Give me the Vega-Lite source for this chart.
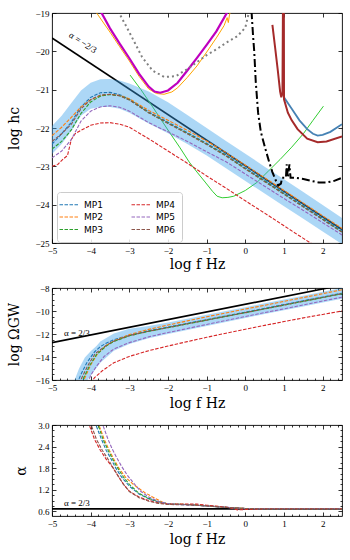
{
  "$schema": "https://vega.github.io/schema/vega-lite/v6.json",
  "padding": {"left": 7, "top": 8, "right": 6, "bottom": 5},
  "background": "white",
  "datasets": {
    "hc_mp": [
      {"mp":"MP1","x":-5,"y":-22.42},{"mp":"MP1","x":-4.75,"y":-22.15},{"mp":"MP1","x":-4.5,"y":-21.85},{"mp":"MP1","x":-4.25,"y":-21.45},{"mp":"MP1","x":-4,"y":-21.2},{"mp":"MP1","x":-3.75,"y":-21.08},{"mp":"MP1","x":-3.5,"y":-21.07},{"mp":"MP1","x":-3.25,"y":-21.13},{"mp":"MP1","x":-3,"y":-21.25},{"mp":"MP1","x":-2.5,"y":-21.58},{"mp":"MP1","x":-2,"y":-21.85},{"mp":"MP1","x":-1.5,"y":-22.12},{"mp":"MP1","x":-1,"y":-22.4},{"mp":"MP1","x":-0.5,"y":-22.7},{"mp":"MP1","x":0,"y":-23.04},{"mp":"MP1","x":0.5,"y":-23.37},{"mp":"MP1","x":1,"y":-23.7},{"mp":"MP1","x":1.5,"y":-24.03},{"mp":"MP1","x":2,"y":-24.36},{"mp":"MP1","x":2.5,"y":-24.69},
      {"mp":"MP2","x":-5,"y":-22.2},{"mp":"MP2","x":-4.75,"y":-21.98},{"mp":"MP2","x":-4.5,"y":-21.72},{"mp":"MP2","x":-4.25,"y":-21.45},{"mp":"MP2","x":-4,"y":-21.26},{"mp":"MP2","x":-3.75,"y":-21.16},{"mp":"MP2","x":-3.5,"y":-21.12},{"mp":"MP2","x":-3.25,"y":-21.15},{"mp":"MP2","x":-3,"y":-21.24},{"mp":"MP2","x":-2.5,"y":-21.54},{"mp":"MP2","x":-2,"y":-21.8},{"mp":"MP2","x":-1.5,"y":-22.06},{"mp":"MP2","x":-1,"y":-22.34},{"mp":"MP2","x":-0.5,"y":-22.64},{"mp":"MP2","x":0,"y":-22.97},{"mp":"MP2","x":0.5,"y":-23.3},{"mp":"MP2","x":1,"y":-23.63},{"mp":"MP2","x":1.5,"y":-23.96},{"mp":"MP2","x":2,"y":-24.29},{"mp":"MP2","x":2.5,"y":-24.62},
      {"mp":"MP3","x":-5,"y":-22.55},{"mp":"MP3","x":-4.75,"y":-22.35},{"mp":"MP3","x":-4.5,"y":-22.05},{"mp":"MP3","x":-4.25,"y":-21.62},{"mp":"MP3","x":-4,"y":-21.32},{"mp":"MP3","x":-3.75,"y":-21.17},{"mp":"MP3","x":-3.5,"y":-21.13},{"mp":"MP3","x":-3.25,"y":-21.16},{"mp":"MP3","x":-3,"y":-21.26},{"mp":"MP3","x":-2.5,"y":-21.6},{"mp":"MP3","x":-2,"y":-21.87},{"mp":"MP3","x":-1.5,"y":-22.14},{"mp":"MP3","x":-1,"y":-22.42},{"mp":"MP3","x":-0.5,"y":-22.72},{"mp":"MP3","x":0,"y":-23.06},{"mp":"MP3","x":0.5,"y":-23.39},{"mp":"MP3","x":1,"y":-23.72},{"mp":"MP3","x":1.5,"y":-24.05},{"mp":"MP3","x":2,"y":-24.38},{"mp":"MP3","x":2.5,"y":-24.71},
      {"mp":"MP4","x":-5,"y":-23.0},{"mp":"MP4","x":-4.85,"y":-22.95},{"mp":"MP4","x":-4.7,"y":-22.8},{"mp":"MP4","x":-4.6,"y":-22.72},{"mp":"MP4","x":-4.5,"y":-22.3},{"mp":"MP4","x":-4.4,"y":-22.15},{"mp":"MP4","x":-4.25,"y":-22.06},{"mp":"MP4","x":-4,"y":-21.93},{"mp":"MP4","x":-3.75,"y":-21.87},{"mp":"MP4","x":-3.5,"y":-21.86},{"mp":"MP4","x":-3.25,"y":-21.9},{"mp":"MP4","x":-3,"y":-21.98},{"mp":"MP4","x":-2.5,"y":-22.28},{"mp":"MP4","x":-2,"y":-22.6},{"mp":"MP4","x":-1.5,"y":-22.92},{"mp":"MP4","x":-1,"y":-23.25},{"mp":"MP4","x":-0.5,"y":-23.57},{"mp":"MP4","x":0,"y":-23.9},{"mp":"MP4","x":0.5,"y":-24.22},{"mp":"MP4","x":1,"y":-24.55},{"mp":"MP4","x":1.5,"y":-24.88},{"mp":"MP4","x":2,"y":-25.2},{"mp":"MP4","x":2.5,"y":-25.53},
      {"mp":"MP5","x":-5,"y":-22.78},{"mp":"MP5","x":-4.75,"y":-22.6},{"mp":"MP5","x":-4.5,"y":-22.3},{"mp":"MP5","x":-4.25,"y":-21.82},{"mp":"MP5","x":-4,"y":-21.56},{"mp":"MP5","x":-3.75,"y":-21.45},{"mp":"MP5","x":-3.5,"y":-21.42},{"mp":"MP5","x":-3.25,"y":-21.46},{"mp":"MP5","x":-3,"y":-21.56},{"mp":"MP5","x":-2.5,"y":-21.86},{"mp":"MP5","x":-2,"y":-22.1},{"mp":"MP5","x":-1.5,"y":-22.35},{"mp":"MP5","x":-1,"y":-22.62},{"mp":"MP5","x":-0.5,"y":-22.88},{"mp":"MP5","x":0,"y":-23.2},{"mp":"MP5","x":0.5,"y":-23.52},{"mp":"MP5","x":1,"y":-23.84},{"mp":"MP5","x":1.5,"y":-24.15},{"mp":"MP5","x":2,"y":-24.47},{"mp":"MP5","x":2.5,"y":-24.79},
      {"mp":"MP6","x":-5,"y":-22.35},{"mp":"MP6","x":-4.75,"y":-22.15},{"mp":"MP6","x":-4.5,"y":-21.9},{"mp":"MP6","x":-4.25,"y":-21.5},{"mp":"MP6","x":-4,"y":-21.26},{"mp":"MP6","x":-3.75,"y":-21.14},{"mp":"MP6","x":-3.5,"y":-21.12},{"mp":"MP6","x":-3.25,"y":-21.16},{"mp":"MP6","x":-3,"y":-21.27},{"mp":"MP6","x":-2.5,"y":-21.6},{"mp":"MP6","x":-2,"y":-21.88},{"mp":"MP6","x":-1.5,"y":-22.15},{"mp":"MP6","x":-1,"y":-22.43},{"mp":"MP6","x":-0.5,"y":-22.73},{"mp":"MP6","x":0,"y":-23.07},{"mp":"MP6","x":0.5,"y":-23.4},{"mp":"MP6","x":1,"y":-23.73},{"mp":"MP6","x":1.5,"y":-24.06},{"mp":"MP6","x":2,"y":-24.39},{"mp":"MP6","x":2.5,"y":-24.72}
    ],
    "hc_band": [
      {"x":-5,"y":-22.68,"y2":-21.95},{"x":-4.75,"y":-22.42,"y2":-21.68},{"x":-4.5,"y":-22.08,"y2":-21.35},{"x":-4.25,"y":-21.68,"y2":-21.02},{"x":-4,"y":-21.5,"y2":-20.82},{"x":-3.75,"y":-21.45,"y2":-20.73},{"x":-3.5,"y":-21.45,"y2":-20.72},{"x":-3.25,"y":-21.5,"y2":-20.76},{"x":-3,"y":-21.6,"y2":-20.84},{"x":-2.5,"y":-21.88,"y2":-21.05},{"x":-2,"y":-22.14,"y2":-21.33},{"x":-1.5,"y":-22.42,"y2":-21.66},{"x":-1,"y":-22.72,"y2":-22.0},{"x":-0.5,"y":-23.05,"y2":-22.34},{"x":0,"y":-23.38,"y2":-22.67},{"x":0.5,"y":-23.71,"y2":-23.01},{"x":1,"y":-24.04,"y2":-23.34},{"x":1.5,"y":-24.37,"y2":-23.67},{"x":2,"y":-24.7,"y2":-24.01},{"x":2.5,"y":-25.03,"y2":-24.35}
    ],
    "hc_ref": [
      {"c":"blk","x":-5,"y":-19.65},{"c":"blk","x":2.5,"y":-24.65},
      {"c":"mag","x":-3.75,"y":-18.94},{"c":"mag","x":-3.5,"y":-19.4},{"c":"mag","x":-3.25,"y":-19.8},{"c":"mag","x":-3,"y":-20.18},{"c":"mag","x":-2.75,"y":-20.58},{"c":"mag","x":-2.5,"y":-20.92},{"c":"mag","x":-2.35,"y":-21.05},{"c":"mag","x":-2.2,"y":-21.08},{"c":"mag","x":-2,"y":-21.02},{"c":"mag","x":-1.75,"y":-20.82},{"c":"mag","x":-1.5,"y":-20.5},{"c":"mag","x":-1.25,"y":-20.17},{"c":"mag","x":-1,"y":-19.83},{"c":"mag","x":-0.75,"y":-19.48},{"c":"mag","x":-0.45,"y":-18.95},
      {"c":"ora","x":-3.88,"y":-18.95},{"c":"ora","x":-3.5,"y":-19.5},{"c":"ora","x":-3.25,"y":-19.88},{"c":"ora","x":-3,"y":-20.25},{"c":"ora","x":-2.75,"y":-20.65},{"c":"ora","x":-2.5,"y":-20.98},{"c":"ora","x":-2.3,"y":-21.1},{"c":"ora","x":-2.1,"y":-21.12},{"c":"ora","x":-1.9,"y":-21.06},{"c":"ora","x":-1.75,"y":-20.95},{"c":"ora","x":-1.5,"y":-20.68},{"c":"ora","x":-1.25,"y":-20.38},{"c":"ora","x":-1,"y":-20.02},{"c":"ora","x":-0.75,"y":-19.65},{"c":"ora","x":-0.55,"y":-19.33},{"c":"ora","x":-0.47,"y":-19.12},{"c":"ora","x":-0.44,"y":-19.25},{"c":"ora","x":-0.41,"y":-19.05},{"c":"ora","x":-0.38,"y":-18.95},
      {"c":"gry","x":-3.29,"y":-18.95},{"c":"gry","x":-3,"y":-19.5},{"c":"gry","x":-2.67,"y":-20.15},{"c":"gry","x":-2.4,"y":-20.5},{"c":"gry","x":-2.1,"y":-20.67},{"c":"gry","x":-1.8,"y":-20.65},{"c":"gry","x":-1.5,"y":-20.46},{"c":"gry","x":-1.25,"y":-20.28},{"c":"gry","x":-1,"y":-20.1},{"c":"gry","x":-0.75,"y":-19.95},{"c":"gry","x":-0.5,"y":-19.78},{"c":"gry","x":-0.2,"y":-19.6},{"c":"gry","x":0,"y":-19.38},{"c":"gry","x":0.1,"y":-18.95},
      {"c":"dd","x":0.16,"y":-18.95},{"c":"dd","x":0.2,"y":-19.6},{"c":"dd","x":0.23,"y":-20.0},{"c":"dd","x":0.27,"y":-20.8},{"c":"dd","x":0.33,"y":-21.6},{"c":"dd","x":0.4,"y":-22.1},{"c":"dd","x":0.52,"y":-22.55},{"c":"dd","x":0.62,"y":-22.9},{"c":"dd","x":0.7,"y":-23.15},{"c":"dd","x":0.78,"y":-23.35},{"c":"dd","x":0.85,"y":-23.5},{"c":"dd","x":0.92,"y":-23.45},{"c":"dd","x":0.95,"y":-23.3},{"c":"dd","x":1.05,"y":-23.3},{"c":"dd","x":1.07,"y":-22.95},{"c":"dd","x":1.1,"y":-23.3},{"c":"dd","x":1.14,"y":-22.95},{"c":"dd","x":1.17,"y":-23.3},{"c":"dd","x":1.3,"y":-23.3},{"c":"dd","x":1.5,"y":-23.33},{"c":"dd","x":1.7,"y":-23.38},{"c":"dd","x":1.9,"y":-23.42},{"c":"dd","x":2.1,"y":-23.42},{"c":"dd","x":2.3,"y":-23.38},{"c":"dd","x":2.5,"y":-23.3},
      {"c":"stb","x":0.98,"y":-18.5},{"c":"stb","x":0.985,"y":-20.0},{"c":"stb","x":0.99,"y":-21.0},{"c":"stb","x":1.0,"y":-21.2},{"c":"stb","x":1.2,"y":-21.5},{"c":"stb","x":1.4,"y":-21.8},{"c":"stb","x":1.6,"y":-22.03},{"c":"stb","x":1.75,"y":-22.15},{"c":"stb","x":1.87,"y":-22.2},{"c":"stb","x":2.0,"y":-22.18},{"c":"stb","x":2.2,"y":-22.1},{"c":"stb","x":2.5,"y":-21.9},
      {"c":"brn","x":0.7,"y":-19.31},{"c":"brn","x":0.77,"y":-19.9},{"c":"brn","x":0.84,"y":-20.5},{"c":"brn","x":0.9,"y":-21.05},{"c":"brn","x":0.93,"y":-21.2},{"c":"brn","x":0.96,"y":-21.1},{"c":"brn","x":0.975,"y":-18.5},{"c":"brn","x":0.995,"y":-18.5},{"c":"brn","x":1.0,"y":-21.25},{"c":"brn","x":1.1,"y":-21.6},{"c":"brn","x":1.2,"y":-21.8},{"c":"brn","x":1.35,"y":-22.03},{"c":"brn","x":1.6,"y":-22.28},{"c":"brn","x":1.87,"y":-22.37},{"c":"brn","x":2.1,"y":-22.35},{"c":"brn","x":2.5,"y":-22.22},
      {"c":"grn","x":-2.98,"y":-20.62},{"c":"grn","x":-2.7,"y":-21.0},{"c":"grn","x":-2.41,"y":-21.43},{"c":"grn","x":-2.2,"y":-21.75},{"c":"grn","x":-1.97,"y":-22.1},{"c":"grn","x":-1.7,"y":-22.5},{"c":"grn","x":-1.45,"y":-22.89},{"c":"grn","x":-1.25,"y":-23.15},{"c":"grn","x":-1.04,"y":-23.41},{"c":"grn","x":-0.85,"y":-23.65},{"c":"grn","x":-0.73,"y":-23.78},{"c":"grn","x":-0.6,"y":-23.82},{"c":"grn","x":-0.45,"y":-23.81},{"c":"grn","x":-0.3,"y":-23.78},{"c":"grn","x":0,"y":-23.63},{"c":"grn","x":0.3,"y":-23.42},{"c":"grn","x":0.6,"y":-23.12},{"c":"grn","x":0.9,"y":-22.82},{"c":"grn","x":1.2,"y":-22.5},{"c":"grn","x":1.5,"y":-22.15},{"c":"grn","x":1.75,"y":-21.8},{"c":"grn","x":2.02,"y":-21.43}
    ],
    "om_mp": [
      {"mp":"MP1","x":-4.35,"y":-16.3},{"mp":"MP1","x":-4.25,"y":-15.5},{"mp":"MP1","x":-4.1,"y":-14.5},{"mp":"MP1","x":-3.9,"y":-13.55},{"mp":"MP1","x":-3.75,"y":-13.1},{"mp":"MP1","x":-3.6,"y":-12.8},{"mp":"MP1","x":-3.4,"y":-12.5},{"mp":"MP1","x":-3,"y":-12.1},{"mp":"MP1","x":-2.5,"y":-11.72},{"mp":"MP1","x":-2,"y":-11.4},{"mp":"MP1","x":-1.5,"y":-11.07},{"mp":"MP1","x":-1,"y":-10.75},{"mp":"MP1","x":-0.5,"y":-10.42},{"mp":"MP1","x":0,"y":-10.1},{"mp":"MP1","x":0.5,"y":-9.77},{"mp":"MP1","x":1,"y":-9.44},{"mp":"MP1","x":1.5,"y":-9.11},{"mp":"MP1","x":2,"y":-8.78},{"mp":"MP1","x":2.5,"y":-8.45},
      {"mp":"MP2","x":-4.22,"y":-16.3},{"mp":"MP2","x":-4.15,"y":-15.8},{"mp":"MP2","x":-4,"y":-14.7},{"mp":"MP2","x":-3.83,"y":-13.75},{"mp":"MP2","x":-3.6,"y":-13.0},{"mp":"MP2","x":-3.4,"y":-12.6},{"mp":"MP2","x":-3,"y":-12.05},{"mp":"MP2","x":-2.5,"y":-11.6},{"mp":"MP2","x":-2,"y":-11.22},{"mp":"MP2","x":-1.5,"y":-10.86},{"mp":"MP2","x":-1,"y":-10.5},{"mp":"MP2","x":-0.5,"y":-10.17},{"mp":"MP2","x":0,"y":-9.83},{"mp":"MP2","x":0.5,"y":-9.5},{"mp":"MP2","x":1,"y":-9.16},{"mp":"MP2","x":1.5,"y":-8.83},{"mp":"MP2","x":2,"y":-8.49},{"mp":"MP2","x":2.5,"y":-8.15},
      {"mp":"MP3","x":-4.25,"y":-16.3},{"mp":"MP3","x":-4.18,"y":-15.8},{"mp":"MP3","x":-4.02,"y":-14.7},{"mp":"MP3","x":-3.85,"y":-13.8},{"mp":"MP3","x":-3.6,"y":-13.05},{"mp":"MP3","x":-3.4,"y":-12.65},{"mp":"MP3","x":-3,"y":-12.15},{"mp":"MP3","x":-2.5,"y":-11.77},{"mp":"MP3","x":-2,"y":-11.45},{"mp":"MP3","x":-1.5,"y":-11.12},{"mp":"MP3","x":-1,"y":-10.8},{"mp":"MP3","x":-0.5,"y":-10.47},{"mp":"MP3","x":0,"y":-10.15},{"mp":"MP3","x":0.5,"y":-9.82},{"mp":"MP3","x":1,"y":-9.49},{"mp":"MP3","x":1.5,"y":-9.16},{"mp":"MP3","x":2,"y":-8.83},{"mp":"MP3","x":2.5,"y":-8.5},
      {"mp":"MP4","x":-4.0,"y":-16.3},{"mp":"MP4","x":-3.9,"y":-15.8},{"mp":"MP4","x":-3.7,"y":-15.2},{"mp":"MP4","x":-3.4,"y":-14.5},{"mp":"MP4","x":-3,"y":-13.95},{"mp":"MP4","x":-2.5,"y":-13.45},{"mp":"MP4","x":-2,"y":-13.05},{"mp":"MP4","x":-1.5,"y":-12.66},{"mp":"MP4","x":-1,"y":-12.29},{"mp":"MP4","x":-0.5,"y":-11.93},{"mp":"MP4","x":0,"y":-11.59},{"mp":"MP4","x":0.5,"y":-11.25},{"mp":"MP4","x":1,"y":-10.92},{"mp":"MP4","x":1.5,"y":-10.6},{"mp":"MP4","x":2,"y":-10.3},{"mp":"MP4","x":2.5,"y":-10.0},
      {"mp":"MP5","x":-4.08,"y":-16.3},{"mp":"MP5","x":-4.0,"y":-15.6},{"mp":"MP5","x":-3.85,"y":-14.8},{"mp":"MP5","x":-3.65,"y":-13.95},{"mp":"MP5","x":-3.4,"y":-13.3},{"mp":"MP5","x":-3,"y":-12.75},{"mp":"MP5","x":-2.5,"y":-12.25},{"mp":"MP5","x":-2,"y":-11.87},{"mp":"MP5","x":-1.5,"y":-11.52},{"mp":"MP5","x":-1,"y":-11.17},{"mp":"MP5","x":-0.5,"y":-10.82},{"mp":"MP5","x":0,"y":-10.48},{"mp":"MP5","x":0.5,"y":-10.14},{"mp":"MP5","x":1,"y":-9.81},{"mp":"MP5","x":1.5,"y":-9.47},{"mp":"MP5","x":2,"y":-9.13},{"mp":"MP5","x":2.5,"y":-8.8},
      {"mp":"MP6","x":-4.3,"y":-16.3},{"mp":"MP6","x":-4.2,"y":-15.6},{"mp":"MP6","x":-4.05,"y":-14.6},{"mp":"MP6","x":-3.88,"y":-13.7},{"mp":"MP6","x":-3.6,"y":-13.0},{"mp":"MP6","x":-3.4,"y":-12.62},{"mp":"MP6","x":-3,"y":-12.14},{"mp":"MP6","x":-2.5,"y":-11.76},{"mp":"MP6","x":-2,"y":-11.44},{"mp":"MP6","x":-1.5,"y":-11.11},{"mp":"MP6","x":-1,"y":-10.79},{"mp":"MP6","x":-0.5,"y":-10.46},{"mp":"MP6","x":0,"y":-10.14},{"mp":"MP6","x":0.5,"y":-9.81},{"mp":"MP6","x":1,"y":-9.48},{"mp":"MP6","x":1.5,"y":-9.15},{"mp":"MP6","x":2,"y":-8.82},{"mp":"MP6","x":2.5,"y":-8.49}
    ],
    "om_band": [
      {"x":-4.45,"y":-16.3,"y2":-16.3},{"x":-4.3,"y":-16.3,"y2":-15.0},{"x":-4.15,"y":-16.3,"y2":-14.05},{"x":-4.0,"y":-15.6,"y2":-13.5},{"x":-3.85,"y":-14.95,"y2":-13.05},{"x":-3.75,"y":-14.5,"y2":-12.65},{"x":-3.4,"y":-13.45,"y2":-11.95},{"x":-3,"y":-12.88,"y2":-11.55},{"x":-2.5,"y":-12.38,"y2":-11.3},{"x":-2,"y":-12.0,"y2":-11.0},{"x":-1.5,"y":-11.65,"y2":-10.67},{"x":-1,"y":-11.3,"y2":-10.33},{"x":-0.5,"y":-10.95,"y2":-10.0},{"x":0,"y":-10.6,"y2":-9.67},{"x":0.5,"y":-10.27,"y2":-9.33},{"x":1,"y":-9.93,"y2":-9.0},{"x":1.5,"y":-9.6,"y2":-8.67},{"x":2,"y":-9.26,"y2":-8.33},{"x":2.5,"y":-8.93,"y2":-8.0}
    ],
    "om_ref": [{"x":-5,"y":-12.75},{"x":2.5,"y":-7.75}],
    "al_mp": [
      {"mp":"MP1","x":-3.9,"y":3.1},{"mp":"MP1","x":-3.72,"y":2.6},{"mp":"MP1","x":-3.6,"y":2.3},{"mp":"MP1","x":-3.47,"y":2.05},{"mp":"MP1","x":-3.35,"y":1.8},{"mp":"MP1","x":-3.2,"y":1.55},{"mp":"MP1","x":-3,"y":1.3},{"mp":"MP1","x":-2.75,"y":1.08},{"mp":"MP1","x":-2.5,"y":0.95},{"mp":"MP1","x":-2.25,"y":0.86},{"mp":"MP1","x":-2,"y":0.8},{"mp":"MP1","x":-1.5,"y":0.78},{"mp":"MP1","x":-1,"y":0.75},{"mp":"MP1","x":-0.5,"y":0.71},{"mp":"MP1","x":0,"y":0.68},{"mp":"MP1","x":0.5,"y":0.67},{"mp":"MP1","x":2.5,"y":0.67},
      {"mp":"MP2","x":-3.82,"y":3.1},{"mp":"MP2","x":-3.65,"y":2.6},{"mp":"MP2","x":-3.52,"y":2.3},{"mp":"MP2","x":-3.4,"y":2.05},{"mp":"MP2","x":-3.27,"y":1.8},{"mp":"MP2","x":-3.1,"y":1.55},{"mp":"MP2","x":-2.9,"y":1.35},{"mp":"MP2","x":-2.6,"y":1.12},{"mp":"MP2","x":-2.4,"y":1.0},{"mp":"MP2","x":-2.15,"y":0.86},{"mp":"MP2","x":-2,"y":0.8},{"mp":"MP2","x":-1.5,"y":0.79},{"mp":"MP2","x":-1,"y":0.76},{"mp":"MP2","x":-0.5,"y":0.71},{"mp":"MP2","x":0,"y":0.68},{"mp":"MP2","x":0.5,"y":0.67},{"mp":"MP2","x":2.5,"y":0.67},
      {"mp":"MP3","x":-3.84,"y":3.1},{"mp":"MP3","x":-3.68,"y":2.6},{"mp":"MP3","x":-3.55,"y":2.3},{"mp":"MP3","x":-3.43,"y":2.05},{"mp":"MP3","x":-3.3,"y":1.8},{"mp":"MP3","x":-3.15,"y":1.55},{"mp":"MP3","x":-3,"y":1.35},{"mp":"MP3","x":-2.75,"y":1.1},{"mp":"MP3","x":-2.5,"y":0.96},{"mp":"MP3","x":-2.25,"y":0.87},{"mp":"MP3","x":-2,"y":0.81},{"mp":"MP3","x":-1.5,"y":0.79},{"mp":"MP3","x":-1,"y":0.75},{"mp":"MP3","x":-0.5,"y":0.71},{"mp":"MP3","x":0,"y":0.68},{"mp":"MP3","x":0.5,"y":0.67},{"mp":"MP3","x":2.5,"y":0.67},
      {"mp":"MP4","x":-4.07,"y":3.1},{"mp":"MP4","x":-3.9,"y":2.6},{"mp":"MP4","x":-3.75,"y":2.3},{"mp":"MP4","x":-3.6,"y":2.05},{"mp":"MP4","x":-3.45,"y":1.85},{"mp":"MP4","x":-3.3,"y":1.6},{"mp":"MP4","x":-3.15,"y":1.35},{"mp":"MP4","x":-3,"y":1.16},{"mp":"MP4","x":-2.75,"y":1.0},{"mp":"MP4","x":-2.5,"y":0.9},{"mp":"MP4","x":-2.25,"y":0.84},{"mp":"MP4","x":-2,"y":0.8},{"mp":"MP4","x":-1.5,"y":0.8},{"mp":"MP4","x":-1.25,"y":0.8},{"mp":"MP4","x":-1,"y":0.77},{"mp":"MP4","x":-0.5,"y":0.72},{"mp":"MP4","x":-0.2,"y":0.64},{"mp":"MP4","x":0,"y":0.65},{"mp":"MP4","x":0.3,"y":0.66},{"mp":"MP4","x":0.5,"y":0.67},{"mp":"MP4","x":2.5,"y":0.67},
      {"mp":"MP5","x":-3.72,"y":3.1},{"mp":"MP5","x":-3.55,"y":2.6},{"mp":"MP5","x":-3.45,"y":2.35},{"mp":"MP5","x":-3.33,"y":2.1},{"mp":"MP5","x":-3.2,"y":1.85},{"mp":"MP5","x":-3.05,"y":1.6},{"mp":"MP5","x":-2.9,"y":1.4},{"mp":"MP5","x":-2.7,"y":1.15},{"mp":"MP5","x":-2.5,"y":1.0},{"mp":"MP5","x":-2.25,"y":0.88},{"mp":"MP5","x":-2,"y":0.81},{"mp":"MP5","x":-1.5,"y":0.78},{"mp":"MP5","x":-1,"y":0.75},{"mp":"MP5","x":-0.5,"y":0.71},{"mp":"MP5","x":0,"y":0.68},{"mp":"MP5","x":0.5,"y":0.67},{"mp":"MP5","x":2.5,"y":0.67},
      {"mp":"MP6","x":-4.02,"y":3.1},{"mp":"MP6","x":-3.85,"y":2.6},{"mp":"MP6","x":-3.7,"y":2.3},{"mp":"MP6","x":-3.55,"y":2.05},{"mp":"MP6","x":-3.45,"y":1.87},{"mp":"MP6","x":-3.3,"y":1.6},{"mp":"MP6","x":-3.15,"y":1.35},{"mp":"MP6","x":-3,"y":1.15},{"mp":"MP6","x":-2.75,"y":0.98},{"mp":"MP6","x":-2.5,"y":0.88},{"mp":"MP6","x":-2.25,"y":0.82},{"mp":"MP6","x":-2,"y":0.79},{"mp":"MP6","x":-1.5,"y":0.78},{"mp":"MP6","x":-1,"y":0.75},{"mp":"MP6","x":-0.5,"y":0.71},{"mp":"MP6","x":0,"y":0.68},{"mp":"MP6","x":0.5,"y":0.67},{"mp":"MP6","x":2.5,"y":0.67}
    ],
    "al_ref": [{"x":-5,"y":0.667},{"x":2.5,"y":0.667}],
    "labels": [
      {"p":"hc","x":-4.2,"y":-19.77,"t":"α = −2/3"},
      {"p":"om","x":-4.69,"y":-12.2,"t":"α = 2/3"},
      {"p":"al","x":-4.69,"y":0.75,"t":"α = 2/3"}
    ]
  },
  "vconcat": [
    {
      "width": 290, "height": 230,
      "layer": [
        {
          "encoding": {
            "x": {"field": "x", "type": "quantitative", "scale": {"domain": [-5, 2.5], "nice": false, "zero": false},
                  "axis": {"values": [-5,-4,-3,-2,-1,0,1,2], "format": "d", "tickSize": -4, "labelPadding": 7, "title": "log f Hz", "titlePadding": 2}},
            "y": {"field": "y", "type": "quantitative", "scale": {"domain": [-25, -19], "nice": false, "zero": false},
                  "axis": {"values": [-25,-24,-23,-22,-21,-20,-19], "format": "d", "tickSize": -4, "labelPadding": 7, "title": "log hc", "titlePadding": 13}}
          },
          "layer": [
            {"data": {"name": "hc_ref"}, "transform": [{"filter": "datum.c == 'blk'"}], "mark": {"type": "line", "color": "black", "strokeWidth": 1.6, "clip": true}},
            {"data": {"name": "hc_ref"}, "transform": [{"filter": "datum.c == 'grn'"}], "mark": {"type": "line", "color": "#32cd32", "strokeWidth": 1, "clip": true}},
            {"data": {"name": "hc_band"}, "mark": {"type": "area", "color": "#3aa0ea", "opacity": 0.42, "clip": true}, "encoding": {"y2": {"field": "y2"}}},
            {"data": {"name": "hc_mp"}, "mark": {"type": "line", "strokeWidth": 1.1, "strokeDash": [3.5, 1.5], "clip": true},
             "encoding": {"color": {"field": "mp", "type": "nominal",
               "scale": {"domain": ["MP1","MP2","MP3","MP4","MP5","MP6"], "range": ["#1f77b4","#ff7f0e","#2ca02c","#d62728","#9467bd","#8c564b"]},
               "legend": {"orient": "none", "legendX": 5, "legendY": 179, "columns": 2, "title": null, "direction": "vertical",
                 "symbolType": "M-2,0H2", "symbolSize": 100, "symbolStrokeWidth": 1, "symbolDash": [3.5, 1.5],
                 "labelFont": "DejaVu Sans", "labelFontSize": 9, "labelColor": "black", "labelOffset": 9, "columnPadding": 26, "rowPadding": 1.5,
                 "padding": 7, "strokeColor": "#cccccc", "fillColor": "rgba(255,255,255,0.85)", "cornerRadius": 3}}}},
            {"data": {"name": "hc_ref"}, "transform": [{"filter": "datum.c == 'ora'"}], "mark": {"type": "line", "color": "#ffa500", "strokeWidth": 1, "clip": true}},
            {"data": {"name": "hc_ref"}, "transform": [{"filter": "datum.c == 'mag'"}], "mark": {"type": "line", "color": "#bf00bf", "strokeWidth": 2.2, "clip": true}},
            {"data": {"name": "hc_ref"}, "transform": [{"filter": "datum.c == 'gry'"}], "mark": {"type": "line", "color": "#808080", "strokeWidth": 2, "strokeDash": [2, 3], "clip": true}},
            {"data": {"name": "hc_ref"}, "transform": [{"filter": "datum.c == 'dd'"}], "mark": {"type": "line", "color": "black", "strokeWidth": 2, "strokeDash": [8, 3, 2, 3], "clip": true}},
            {"data": {"name": "hc_ref"}, "transform": [{"filter": "datum.c == 'stb'"}], "mark": {"type": "line", "color": "#4682b4", "strokeWidth": 1.8, "clip": true}},
            {"data": {"name": "hc_ref"}, "transform": [{"filter": "datum.c == 'brn'"}], "mark": {"type": "line", "color": "#a52a2a", "strokeWidth": 2, "clip": true}},
            {"data": {"name": "labels"}, "transform": [{"filter": "datum.p == 'hc'"}], "mark": {"type": "text", "font": "Liberation Serif", "fontSize": 9, "angle": 33, "align": "center", "baseline": "middle", "color": "black"}, "encoding": {"text": {"field": "t"}}}
          ]
        },
        {
          "data": {"name": "hc_ref"}, "transform": [{"filter": "datum.c == 'blk'"}],
          "mark": {"type": "line", "opacity": 0},
          "encoding": {
            "x": {"field": "x", "type": "quantitative", "scale": {"domain": [-5, 2.5], "nice": false, "zero": false},
                  "axis": {"orient": "top", "labels": false, "title": null, "values": [-5,-4,-3,-2,-1,0,1,2], "tickSize": -4}},
            "y": {"field": "y", "type": "quantitative", "scale": {"domain": [-25, -19], "nice": false, "zero": false},
                  "axis": {"orient": "right", "labels": false, "title": null, "values": [-25,-24,-23,-22,-21,-20,-19], "tickSize": -4}}
          }
        }
      ],
      "resolve": {"axis": {"x": "independent", "y": "independent"}}
    },
    {
      "width": 290, "height": 92,
      "layer": [
        {
          "encoding": {
            "x": {"field": "x", "type": "quantitative", "scale": {"domain": [-5, 2.5], "nice": false, "zero": false},
                  "axis": {"values": [-5,-4.8,-4.6,-4.4,-4.2,-4,-3.8,-3.6,-3.4,-3.2,-3,-2.8,-2.6,-2.4,-2.2,-2,-1.8,-1.6,-1.4,-1.2,-1,-0.8,-0.6,-0.4,-0.2,0,0.2,0.4,0.6,0.8,1,1.2,1.4,1.6,1.8,2,2.2,2.4],
                    "labelExpr": "abs(datum.value - round(datum.value)) < 0.001 ? format(datum.value, 'd') : ''",
                    "tickSize": {"condition": {"test": "abs(datum.value - round(datum.value)) < 0.001", "value": -4}, "value": -2},
                    "labelPadding": 7, "title": "log f Hz", "titlePadding": 2}},
            "y": {"field": "y", "type": "quantitative", "scale": {"domain": [-16, -8], "nice": false, "zero": false},
                  "axis": {"values": [-16,-15.5,-15,-14.5,-14,-13.5,-13,-12.5,-12,-11.5,-11,-10.5,-10,-9.5,-9,-8.5,-8],
                    "labelExpr": "abs(datum.value/2 - round(datum.value/2)) < 0.001 ? format(datum.value, 'd') : ''",
                    "tickSize": {"condition": {"test": "abs(datum.value/2 - round(datum.value/2)) < 0.001", "value": -4}, "value": -2},
                    "labelPadding": 7, "title": "log ΩGW", "titlePadding": 13}}
          },
          "layer": [
            {"data": {"name": "om_ref"}, "mark": {"type": "line", "color": "black", "strokeWidth": 1.6, "clip": true}},
            {"data": {"name": "om_band"}, "mark": {"type": "area", "color": "#3aa0ea", "opacity": 0.42, "clip": true}, "encoding": {"y2": {"field": "y2"}}},
            {"data": {"name": "om_mp"}, "mark": {"type": "line", "strokeWidth": 1.1, "strokeDash": [3.5, 1.5], "clip": true},
             "encoding": {"color": {"field": "mp", "type": "nominal",
               "scale": {"domain": ["MP1","MP2","MP3","MP4","MP5","MP6"], "range": ["#1f77b4","#ff7f0e","#2ca02c","#d62728","#9467bd","#8c564b"]}, "legend": null}}},
            {"data": {"name": "labels"}, "transform": [{"filter": "datum.p == 'om'"}], "mark": {"type": "text", "font": "Liberation Serif", "fontSize": 9, "align": "left", "baseline": "alphabetic", "color": "black"}, "encoding": {"text": {"field": "t"}}}
          ]
        },
        {
          "data": {"name": "om_ref"},
          "mark": {"type": "line", "opacity": 0, "clip": true},
          "encoding": {
            "x": {"field": "x", "type": "quantitative", "scale": {"domain": [-5, 2.5], "nice": false, "zero": false},
                  "axis": {"orient": "top", "labels": false, "title": null,
                    "values": [-5,-4.8,-4.6,-4.4,-4.2,-4,-3.8,-3.6,-3.4,-3.2,-3,-2.8,-2.6,-2.4,-2.2,-2,-1.8,-1.6,-1.4,-1.2,-1,-0.8,-0.6,-0.4,-0.2,0,0.2,0.4,0.6,0.8,1,1.2,1.4,1.6,1.8,2,2.2,2.4],
                    "tickSize": {"condition": {"test": "abs(datum.value - round(datum.value)) < 0.001", "value": -4}, "value": -2}}},
            "y": {"field": "y", "type": "quantitative", "scale": {"domain": [-16, -8], "nice": false, "zero": false},
                  "axis": {"orient": "right", "labels": false, "title": null,
                    "values": [-16,-15.5,-15,-14.5,-14,-13.5,-13,-12.5,-12,-11.5,-11,-10.5,-10,-9.5,-9,-8.5,-8],
                    "tickSize": {"condition": {"test": "abs(datum.value/2 - round(datum.value/2)) < 0.001", "value": -4}, "value": -2}}}
          }
        }
      ],
      "resolve": {"axis": {"x": "independent", "y": "independent"}}
    },
    {
      "width": 290, "height": 91,
      "layer": [
        {
          "encoding": {
            "x": {"field": "x", "type": "quantitative", "scale": {"domain": [-5, 2.5], "nice": false, "zero": false},
                  "axis": {"values": [-5,-4.8,-4.6,-4.4,-4.2,-4,-3.8,-3.6,-3.4,-3.2,-3,-2.8,-2.6,-2.4,-2.2,-2,-1.8,-1.6,-1.4,-1.2,-1,-0.8,-0.6,-0.4,-0.2,0,0.2,0.4,0.6,0.8,1,1.2,1.4,1.6,1.8,2,2.2,2.4],
                    "labelExpr": "abs(datum.value - round(datum.value)) < 0.001 ? format(datum.value, 'd') : ''",
                    "tickSize": {"condition": {"test": "abs(datum.value - round(datum.value)) < 0.001", "value": -4}, "value": -2},
                    "labelPadding": 7, "title": "log f Hz", "titlePadding": 2}},
            "y": {"field": "y", "type": "quantitative", "scale": {"domain": [0.47, 3.0], "nice": false, "zero": false},
                  "axis": {"values": [0.6,0.75,0.9,1.05,1.2,1.35,1.5,1.65,1.8,1.95,2.1,2.25,2.4,2.55,2.7,2.85,3.0],
                    "labelExpr": "abs(datum.value/0.6 - round(datum.value/0.6)) < 0.001 ? format(datum.value, '.1f') : ''",
                    "tickSize": {"condition": {"test": "abs(datum.value/0.6 - round(datum.value/0.6)) < 0.001", "value": -4}, "value": -2},
                    "labelPadding": 7, "title": "α", "titlePadding": 9}}
          },
          "layer": [
            {"data": {"name": "al_ref"}, "mark": {"type": "line", "color": "black", "strokeWidth": 1.6, "clip": true}},
            {"data": {"name": "al_mp"}, "mark": {"type": "line", "strokeWidth": 1.1, "strokeDash": [3.5, 1.5], "clip": true},
             "encoding": {"color": {"field": "mp", "type": "nominal",
               "scale": {"domain": ["MP1","MP2","MP3","MP4","MP5","MP6"], "range": ["#1f77b4","#ff7f0e","#2ca02c","#d62728","#9467bd","#8c564b"]}, "legend": null}}},
            {"data": {"name": "labels"}, "transform": [{"filter": "datum.p == 'al'"}], "mark": {"type": "text", "font": "Liberation Serif", "fontSize": 9, "align": "left", "baseline": "alphabetic", "color": "black"}, "encoding": {"text": {"field": "t"}}}
          ]
        },
        {
          "data": {"name": "al_ref"},
          "mark": {"type": "line", "opacity": 0},
          "encoding": {
            "x": {"field": "x", "type": "quantitative", "scale": {"domain": [-5, 2.5], "nice": false, "zero": false},
                  "axis": {"orient": "top", "labels": false, "title": null,
                    "values": [-5,-4.8,-4.6,-4.4,-4.2,-4,-3.8,-3.6,-3.4,-3.2,-3,-2.8,-2.6,-2.4,-2.2,-2,-1.8,-1.6,-1.4,-1.2,-1,-0.8,-0.6,-0.4,-0.2,0,0.2,0.4,0.6,0.8,1,1.2,1.4,1.6,1.8,2,2.2,2.4],
                    "tickSize": {"condition": {"test": "abs(datum.value - round(datum.value)) < 0.001", "value": -4}, "value": -2}}},
            "y": {"field": "y", "type": "quantitative", "scale": {"domain": [0.47, 3.0], "nice": false, "zero": false},
                  "axis": {"orient": "right", "labels": false, "title": null,
                    "values": [0.6,0.75,0.9,1.05,1.2,1.35,1.5,1.65,1.8,1.95,2.1,2.25,2.4,2.55,2.7,2.85,3.0],
                    "tickSize": {"condition": {"test": "abs(datum.value/0.6 - round(datum.value/0.6)) < 0.001", "value": -4}, "value": -2}}}
          }
        }
      ],
      "resolve": {"axis": {"x": "independent", "y": "independent"}}
    }
  ],
  "spacing": 45,
  "bounds": "flush",
  "resolve": {"scale": {"color": "independent"}, "legend": {"color": "independent"}},
  "config": {
    "view": {"stroke": "black", "strokeWidth": 0.9},
    "axis": {"domain": false, "grid": false, "ticks": true, "tickColor": "black", "tickWidth": 0.8,
             "labelFont": "Liberation Serif", "labelFontSize": 9, "labelColor": "black", "labelOverlap": false, "labelFlush": false,
             "titleFont": "DejaVu Serif", "titleFontSize": 14, "titleFontWeight": "normal", "titleColor": "black"}
  }
}
